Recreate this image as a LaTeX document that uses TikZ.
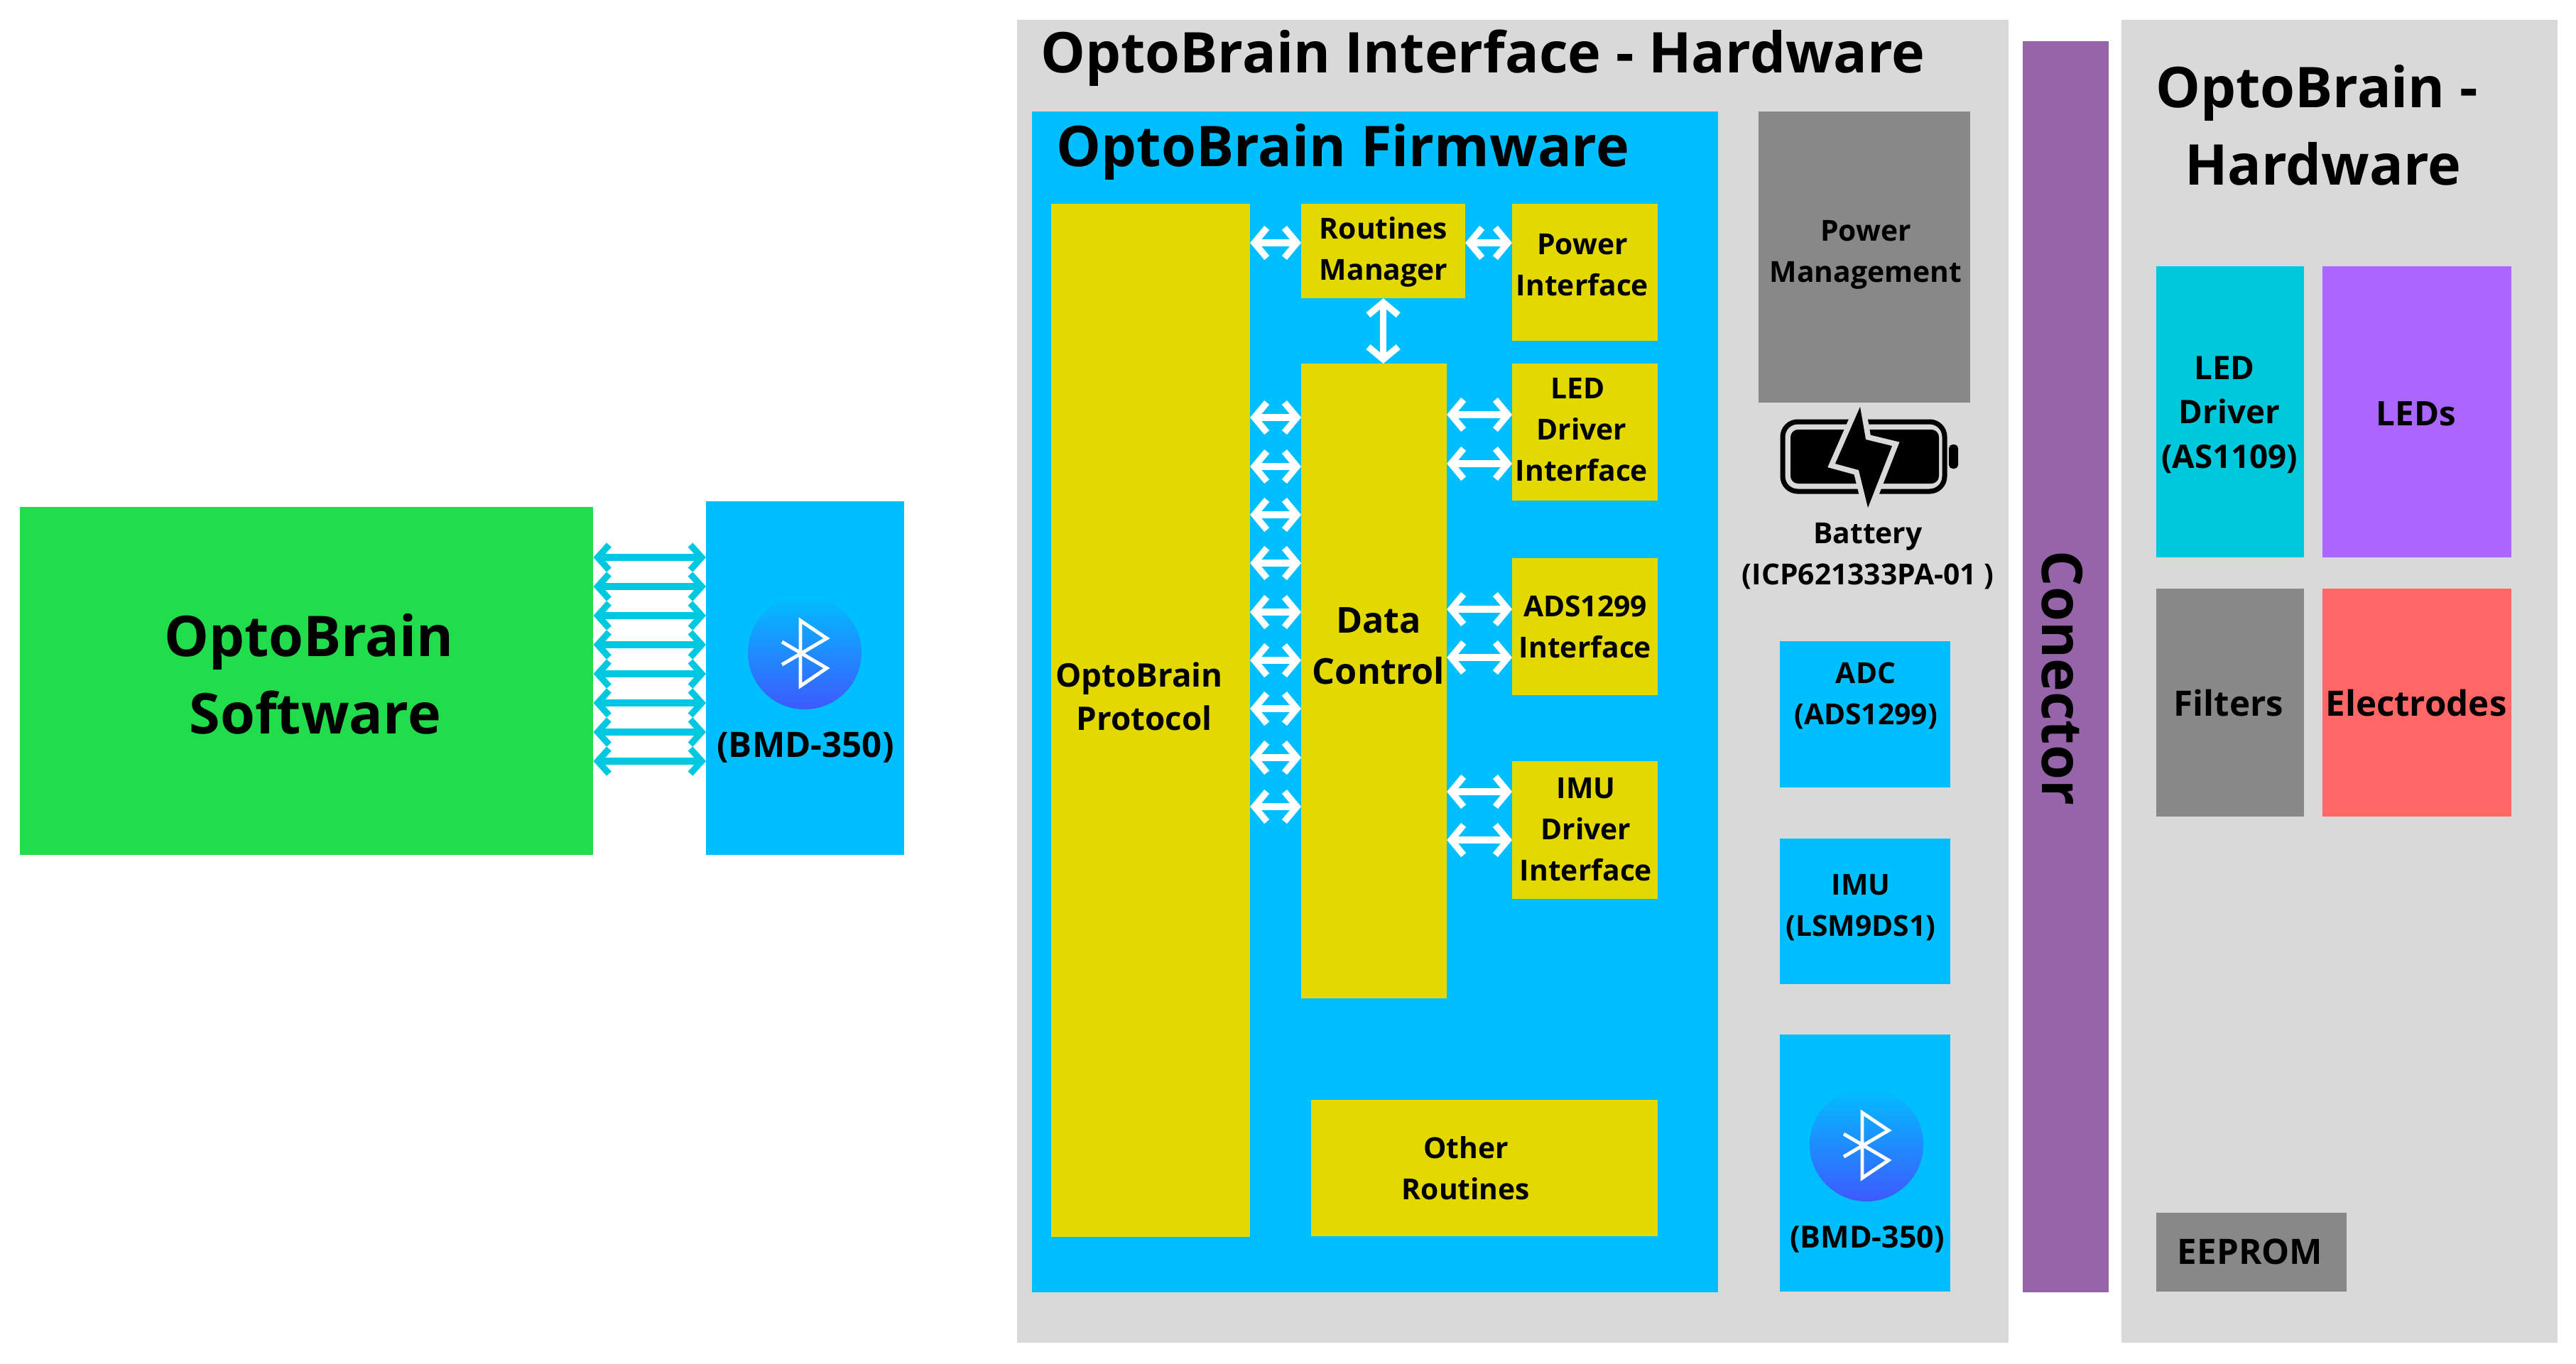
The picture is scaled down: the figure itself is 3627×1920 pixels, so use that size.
\documentclass[tikz,border=0pt]{standalone}
\usepackage{fontspec}
\setmainfont{Open Sans}
\usetikzlibrary{arrows.meta,positioning,calc}
\definecolor{panelgrey}{HTML}{D9D9D9}
\definecolor{skyblue}{HTML}{00BFFF}
\definecolor{blockyellow}{HTML}{E3D800}
\definecolor{softgreen}{HTML}{22DD4B}
\definecolor{darkgrey}{HTML}{888888}
\definecolor{linkcyan}{HTML}{00C8E0}
\definecolor{connpurple}{HTML}{9664A8}
\definecolor{ledcyan}{HTML}{00C8DC}
\definecolor{ledpurple}{HTML}{AA66FF}
\definecolor{elecred}{HTML}{FF6666}
\definecolor{discmid}{HTML}{0A85FF}
\definecolor{discbottom}{HTML}{3D5AFE}
\newcommand{\btrune}[1]{\draw[bt_rune] (#1) ++(-32,-15) -- ++(63,37) -- ++(-37,25) -- ++(0,-92) -- ++(37,25) -- ++(-63,37);}

\begin{document}
\begin{tikzpicture}[
    x=0.01cm, y=-0.01cm,
    block/.style={rectangle, inner sep=0pt, outer sep=0pt, anchor=north west},
    yellow_block/.style={block, fill=blockyellow},
    sized/.style n args={2}{minimum width=#1, minimum height=#2},
    txt_big/.style={inner sep=0pt, align=center, font=\fontsize{22.5}{30.9}\selectfont\bfseries},
    txt_mid/.style={inner sep=0pt, align=center, font=\fontsize{14}{20.4}\selectfont\bfseries},
    txt_prot/.style={inner sep=0pt, align=center, font=\fontsize{13}{17.3}\selectfont\bfseries},
    txt_small/.style={inner sep=0pt, align=center, font=\fontsize{11.6}{16.4}\selectfont\bfseries},
    bt_disc/.style={circle, minimum size=1.6cm, inner sep=0pt, top color=skyblue, middle color=discmid, bottom color=discbottom},
    bt_rune/.style={draw=white, line width=1.4pt, line join=miter},
    cyan_link/.style={{Straight Barb[length=4.5pt,width=10pt]}-{Straight Barb[length=4.5pt,width=10pt]}, line width=2.6pt, color=linkcyan},
    white_link/.style={{Straight Barb[length=5pt,width=12pt]}-{Straight Barb[length=5pt,width=12pt]}, line width=2.6pt, color=white}
]
\useasboundingbox (1,0) rectangle (3628,1920);

% --- SOFTWARE SIDE ---
\node[block, fill=softgreen, sized={8.07cm}{4.90cm}] (software) at (29,714) {};
\node[block, fill=skyblue, sized={2.79cm}{4.98cm}] (ble_ext) at (995,706) {};
\node[bt_disc] (disc_ext) at (1134,919) {};
\btrune{disc_ext}
\node[txt_big] (software_txt) at (436,949) {OptoBrain\\\hspace*{5pt}Software};
\node[txt_mid] (ble_ext_txt) at (1135,1053) {(BMD-350)};

\foreach \y in {785,826,867,908,949,990,1031,1072}
    \draw[cyan_link] (software.east |- 0,\y) -- (ble_ext.west |- 0,\y);

% --- PANELS ---
\node[block, fill=panelgrey, sized={13.95cm}{18.62cm}] (iface_hw) at (1433,28) {};
\node[block, fill=connpurple, sized={1.21cm}{17.61cm}] (conector) at (2849,58) {};
\node[block, fill=panelgrey, sized={6.14cm}{18.62cm}] (opto_hw) at (2988,28) {};
\node[block, fill=skyblue, sized={9.65cm}{16.62cm}] (firmware) at (1454,157) {};

\node[txt_big] (iface_hw_txt) at (2089,82) {OptoBrain Interface - Hardware};
\node[txt_big] (firmware_txt) at (1892,214) {OptoBrain Firmware};
\node[txt_big] (opto_hw_txt) at (3263,176) {OptoBrain -\\\hspace*{5pt}Hardware};
\node[txt_big, rotate=-90] (conector_txt) at (2905,955) {Conector};

% --- FIRMWARE ---
\node[yellow_block, sized={2.80cm}{14.54cm}] (protocol) at (1481,287) {};
\node[yellow_block, sized={2.31cm}{1.33cm}] (routines) at (1833,287) {};
\node[yellow_block, sized={2.05cm}{8.93cm}] (control) at (1833,512) {};
\node[yellow_block, sized={2.05cm}{1.93cm}] (power_iface) at (2130,287) {};
\node[yellow_block, sized={2.05cm}{1.93cm}, anchor=north, below=0.32cm of power_iface] (led_iface) {};
\node[yellow_block, sized={2.05cm}{1.93cm}, anchor=north, below=0.81cm of led_iface] (ads_iface) {};
\node[yellow_block, sized={2.05cm}{1.93cm}, anchor=north, below=0.93cm of ads_iface] (imu_iface) {};
\node[yellow_block, sized={4.88cm}{1.92cm}] (other) at (1847,1549) {};

\node[txt_prot] (protocol_txt) at (1605,981) {OptoBrain\\\hspace*{4pt}Protocol};
\node[txt_small] (routines_txt) at (1949,355) {Routines\\Manager};
\node[txt_mid, font=\fontsize{14.3}{20.4}\selectfont\bfseries] (control_txt) at (1942,910) {Data\\Control};
\node[txt_small] (power_iface_txt) at (2229,373) {Power\\Interface};
\node[txt_small] (led_iface_txt) at (2228,605) {LED\hspace*{3pt}\\Driver\\Interface};
\node[txt_small] (ads_iface_txt) at (2233,883) {ADS1299\\Interface};
\node[txt_small] (imu_iface_txt) at (2234,1168) {IMU\\Driver\\Interface};
\node[txt_small] (other_txt) at (2065,1645) {Other\\Routines};

% --- FIRMWARE LINKS ---
\draw[white_link] (protocol.east |- 0,342) -- (routines.west |- 0,342);
\draw[white_link] (routines.east |- 0,342) -- (power_iface.west |- 0,342);
\draw[white_link] (routines.south) -- (routines.south |- control.north);
\foreach \y in {588,657,725,793,862,930,998,1067,1136}
    \draw[white_link] (protocol.east |- 0,\y) -- (control.west |- 0,\y);
\foreach \y in {584,653}
    \draw[white_link] (control.east |- 0,\y) -- (led_iface.west |- 0,\y);
\foreach \y in {858,926}
    \draw[white_link] (control.east |- 0,\y) -- (ads_iface.west |- 0,\y);
\foreach \y in {1115,1183}
    \draw[white_link] (control.east |- 0,\y) -- (imu_iface.west |- 0,\y);

% --- INTERFACE HARDWARE ---
% battery icon
\draw[line width=2pt, rounded corners=6pt] (2511,594) rectangle (2739,692);
\fill[rounded corners=3pt] (2522,605) rectangle (2731,681);
\fill[rounded corners=1.5pt] (2745,626) rectangle (2758,660);
\fill[black, preaction={draw=panelgrey, line width=4.4pt}] (2620,573) -- (2585,653) -- (2618,662) -- (2631,715) -- (2665,628) -- (2628,619) -- cycle;

\node[block, fill=darkgrey, sized={2.98cm}{4.10cm}] (power_mgmt) at (2477,157) {};
\node[txt_small] (power_mgmt_txt) at (2628,359) {Power\\Management};
\node[txt_small] (battery_txt) at (2631,783) {Battery\\(ICP621333PA-01 )};

\node[block, fill=skyblue, sized={2.40cm}{2.06cm}] (adc) at (2507,903) {};
\node[txt_small] (adc_txt) at (2628,980) {ADC\\(ADS1299)};
\node[block, fill=skyblue, sized={2.40cm}{2.05cm}, anchor=north, below=0.72cm of adc] (imu) {};
\node[txt_small] (imu_txt) at (2621,1278) {IMU\\(LSM9DS1)};
\node[block, fill=skyblue, sized={2.40cm}{3.61cm}, anchor=north, below=0.71cm of imu] (ble_int) {};
\node[bt_disc] (disc_int) at (2629,1612) {};
\btrune{disc_int}
\node[txt_small, font=\fontsize{12.2}{16.4}\selectfont\bfseries] (ble_int_txt) at (2630,1745) {(BMD-350)};

% --- OPTOBRAIN HARDWARE ---
\node[block, fill=ledcyan, sized={2.08cm}{4.10cm}] (led_driver) at (3037,375) {};
\node[block, fill=ledpurple, sized={2.66cm}{4.10cm}] (leds) at (3271,375) {};
\node[block, fill=darkgrey, sized={2.08cm}{3.21cm}, anchor=north, below=0.44cm of led_driver] (filters) {};
\node[block, fill=elecred, sized={2.66cm}{3.21cm}, anchor=north, below=0.44cm of leds] (electrodes) {};
\node[block, fill=darkgrey, sized={2.68cm}{1.11cm}] (eeprom) at (3037,1708) {};

\node[txt_prot, font=\fontsize{13}{17.8}\selectfont\bfseries] (led_driver_txt) at (3140,584) {LED\hspace*{4pt}\\Driver\\(AS1109)};
\node[txt_prot, font=\fontsize{13.5}{17}\selectfont\bfseries] (leds_txt) at (3403,583) {LEDs};
\node[txt_mid] (filters_txt) at (3139,990) {Filters};
\node[txt_mid] (electrodes_txt) at (3403,990) {Electrodes};
\node[txt_mid] (eeprom_txt) at (3169,1763) {EEPROM};

\end{tikzpicture}
\end{document}
